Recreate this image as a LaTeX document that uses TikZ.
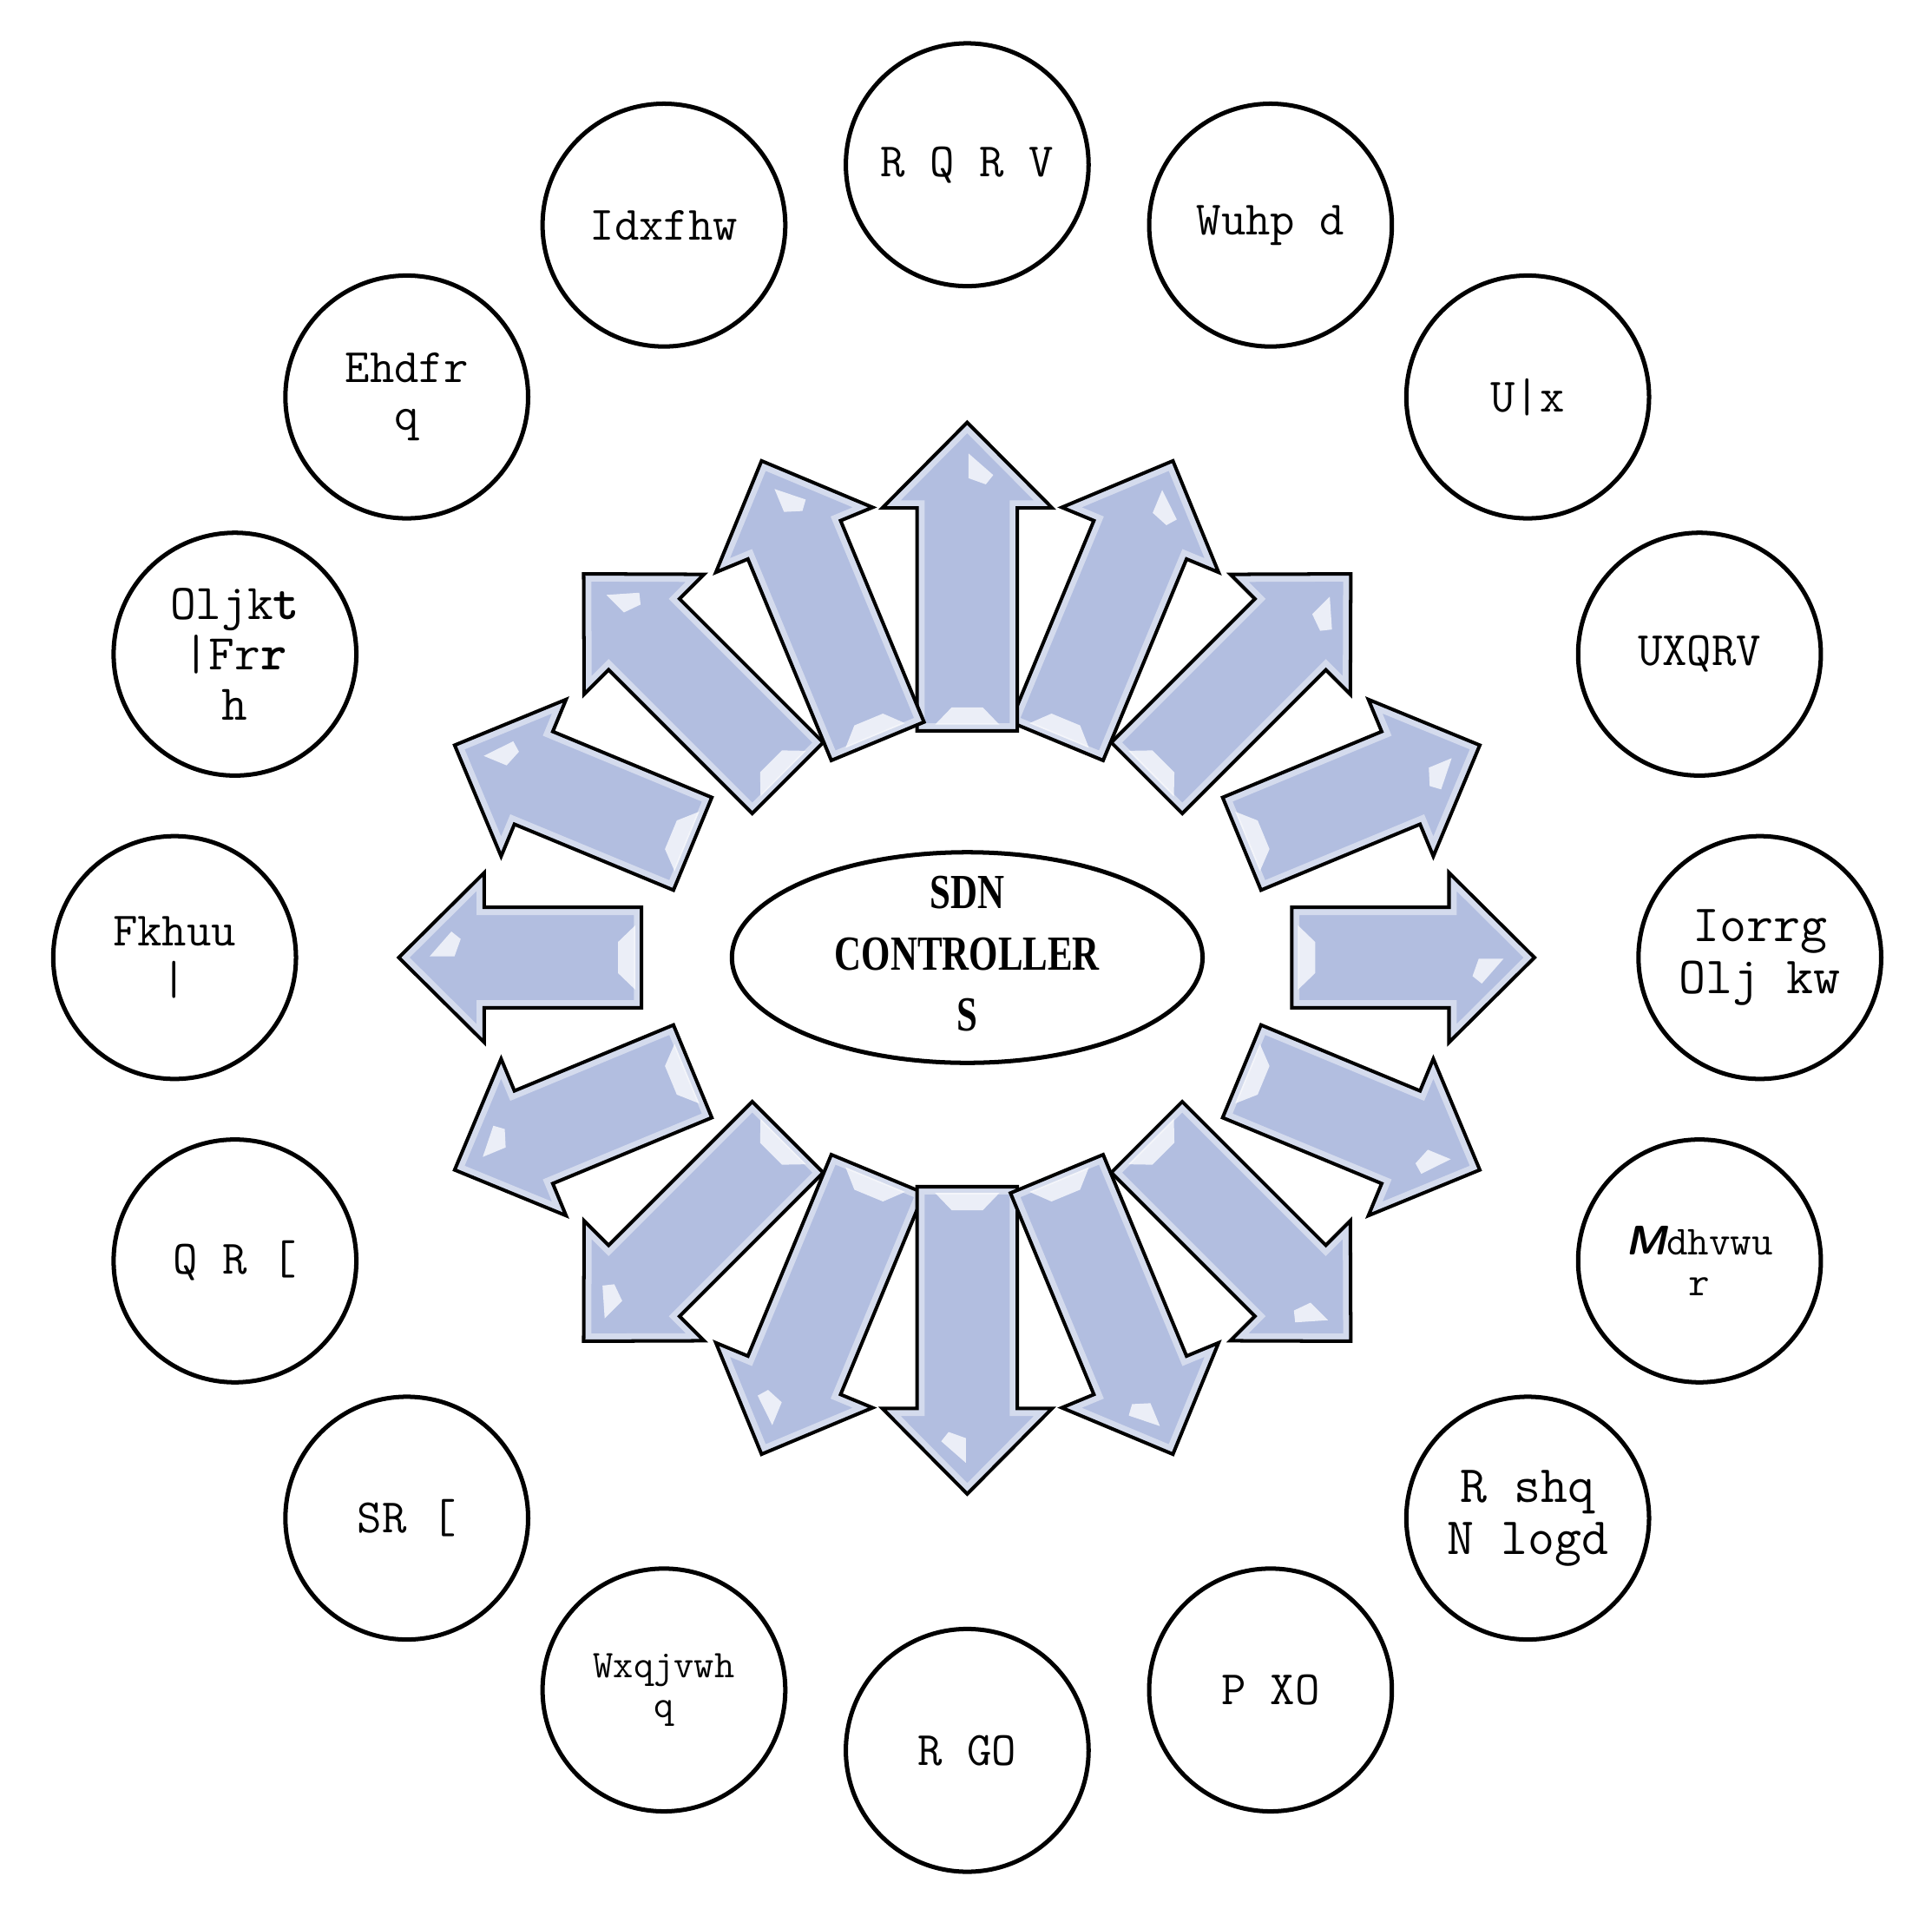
\documentclass[tikz,border=0pt]{standalone}
\usepackage{amsmath}
\usepackage{fontspec}
\usepackage{tikz}
\usetikzlibrary{shapes.geometric}

\newfontfamily\ctrlfont{Liberation Serif}
\definecolor{arrowfill}{RGB}{178,190,224}

\tikzset{
  tool/.style={draw, circle, line width=2pt, minimum size=3.92cm, inner sep=0pt,
    align=center, font=\ttfamily\fontsize{#1}{#1}\selectfont},
  tool/.default=22,
  spoke/.style={draw=black, line width=1.6pt, line join=miter},
  glint/.style={fill=white, opacity=0.75}
}

% one arrow: angle, tail distance, tip distance
\newcommand{\sdnarrow}[3]{%
  \begin{scope}[rotate=#1]
    \pgfmathsetmacro{\hb}{#3-1.38}
    \def\arrowpath{(#2,-0.81) -- (\hb,-0.81) -- (\hb,-1.37) -- (#3,0)
      -- (\hb,1.37) -- (\hb,0.81) -- (#2,0.81) -- cycle}
    \fill[arrowfill] \arrowpath;
    \begin{scope}
      \clip \arrowpath;
      \draw[white, opacity=0.45, line width=7pt] \arrowpath;
    \end{scope}
    \fill[glint] (#2+0.1,-0.52) -- (#2+0.38,-0.25) -- (#2+0.38,0.25) -- (#2+0.1,0.52) -- cycle;
    \fill[glint] (#3-0.5,-0.02) -- (#3-0.85,-0.42) -- (#3-1.0,-0.3) -- (#3-0.9,-0.02) -- cycle;
    \draw[spoke] \arrowpath;
  \end{scope}}

\begin{document}
\begin{tikzpicture}
    \useasboundingbox (-15.62,-15.36) rectangle (15.58,15.46);
    % arrows round the controller
    \foreach \ang/\st/\en in {0/5.24/9.16, 22.5/4.8/8.96, 45/4.1/8.76, 67.5/3.78/8.68,
        90/3.66/8.64, 112.5/3.78/8.68, 135/4.1/8.76, 157.5/4.8/8.96,
        180/5.26/9.18, 202.5/4.8/8.96, 225/4.1/8.76, 247.5/3.78/8.68,
        270/3.7/8.66, 292.5/3.78/8.68, 315/4.1/8.76, 337.5/4.8/8.96}
        {\sdnarrow{\ang}{\st}{\en}}
    \node[draw, ellipse, line width=2pt, minimum width=7.6cm, minimum height=3.4cm,
        inner sep=0pt] (ctrl) at (0,0) {};
    \node[font=\ctrlfont\bfseries\fontsize{22.5}{28}\selectfont] (ctrltext) at (ctrl)
        {\scalebox{0.76}[1]{\begin{tabular}{@{}c@{}}SDN\\CONTROLLER\\S\end{tabular}}};
    % controllers on the ring
    \node[tool] (onos) at (90:12.8) {R Q R V};
    \node[tool] (trema) at (67.5:12.8) {Wuhp d};
    \node[tool] (ryu) at (45:12.8) {U|x};
    \node[tool] (runos) at (22.5:12.8) {UXQRV};
    \node[tool=24] (floodlight) at (0:12.8) {Iorrg\\Olj kw};
    \node[tool=19] (maestro) at (-22.5:12.8) {{\sffamily\bfseries\slshape M}dhvwu\\r};
    \node[tool=24] (openkilda) at (-45:12.8) {R shq\\N logd};
    \node[tool] (mul) at (-67.5:12.8) {P XO};
    \node[tool] (odl) at (-90:12.8) {R GO};
    \node[tool=18] (tungsten) at (-112.5:12.8) {Wxqjvwh\\q};
    \node[tool] (pox) at (-135:12.8) {SR [};
    \node[tool] (nox) at (-157.5:12.8) {Q R [};
    \node[tool] (cherry) at (180:12.8) {Fkhuu\\|};
    \node[tool=23] (lightcooe) at (157.5:12.8) {Oljk{\bfseries t}\\|Fr{\bfseries r}\\h};
    \node[tool] (beacon) at (135:12.8) {Ehdfr\\q};
    \node[tool] (faucet) at (112.5:12.8) {Idxfhw};
\end{tikzpicture}
\end{document}
